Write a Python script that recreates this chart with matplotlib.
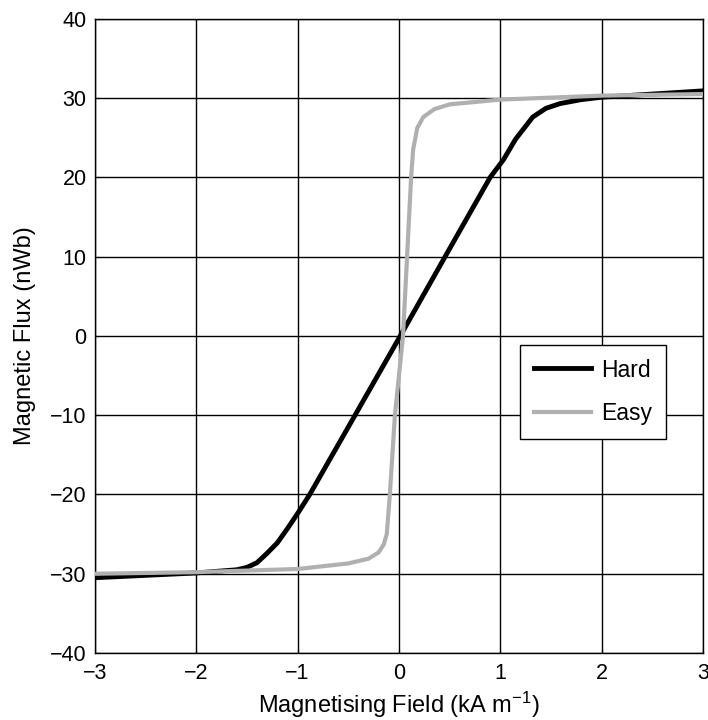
import matplotlib
matplotlib.use("Agg")
import matplotlib.pyplot as plt

plt.rcParams['font.family'] = ['Liberation Sans', 'DejaVu Sans']
plt.rcParams['mathtext.default'] = 'regular'

# hard axis magnetisation curve
hard_x = [-3, -2.5, -2, -1.6, -1.5, -1.4, -1.3, -1.2, -1.1, -1.0, -0.88, -0.5, 0, 0.5,
          0.9, 1.03, 1.15, 1.32, 1.45, 1.59, 1.8, 2, 2.5, 3]
hard_y = [-30.5, -30.2, -29.9, -29.5, -29.2, -28.6, -27.4, -26.1, -24.3, -22.4, -20, -11.5, -0.3, 11,
          20, 22.2, 24.8, 27.6, 28.7, 29.3, 29.8, 30.1, 30.5, 30.9]

# easy axis magnetisation curve
easy_x = [-3, -2, -1, -0.5, -0.3, -0.2, -0.15, -0.12, -0.09, -0.04, 0.04, 0.08, 0.12,
          0.14, 0.18, 0.24, 0.35, 0.5, 1, 2, 3]
easy_y = [-30, -29.8, -29.4, -28.7, -28.1, -27.3, -26.3, -25, -20, -10, 0, 10, 20,
          23.5, 26.2, 27.6, 28.6, 29.2, 29.8, 30.3, 30.5]

fig = plt.figure(figsize=(7.08, 7.2), dpi=100)
ax = fig.add_axes([0.134, 0.093, 0.859, 0.881])

ax.plot(hard_x, hard_y, color='black', lw=3.5, label='Hard', zorder=3)
ax.plot(easy_x, easy_y, color='#b0b0b0', lw=3, label='Easy', zorder=4)

ax.set_xlim(-3, 3)
ax.set_ylim(-40, 40)
ax.set_xticks(range(-3, 4))
ax.set_yticks(range(-40, 41, 10))
ax.grid(True, color='black', lw=1)
ax.set_axisbelow(True)
ax.tick_params(direction='in', length=3, labelsize=15.5)
ax.tick_params(axis='x', pad=7)
ax.tick_params(axis='y', pad=6)
for s in ax.spines.values():
    s.set_linewidth(1)

ax.set_xlabel('Magnetising Field (kA m$^{\u22121}$)', fontsize=17, labelpad=4)
ax.set_ylabel('Magnetic Flux (nWb)', fontsize=17, labelpad=10)

leg = ax.legend(loc='upper right', bbox_to_anchor=(0.939, 0.486), fontsize=16.5,
                fancybox=False, edgecolor='black', framealpha=1, handlelength=2.5,
                handletextpad=0.45, borderpad=0.6, borderaxespad=0, labelspacing=0.9)
leg.get_frame().set_linewidth(1)

fig.savefig('out.png', dpi=100)
